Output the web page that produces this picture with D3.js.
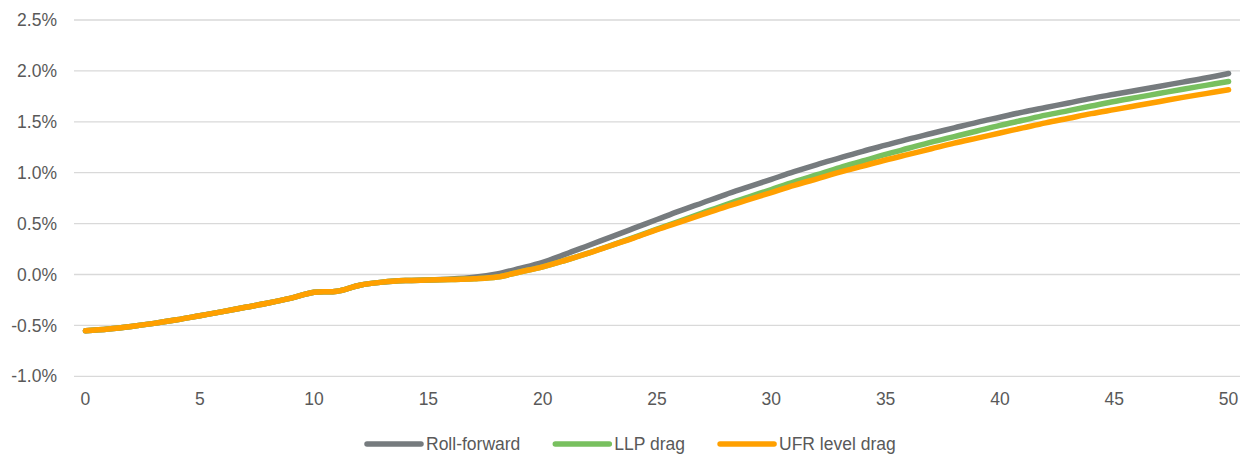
<!DOCTYPE html>
<html lang="en">
<head>
    <meta charset="utf-8">
    <title>Roll-forward vs LLP drag vs UFR level drag</title>
    <script src="https://d3js.org/d3.v7.min.js"></script>
    <style>
        body { margin: 0; background: #fff; }
        svg text { font-family: Arial, "Liberation Sans", sans-serif; fill: #595959; font-size: 17.5px; }
    </style>
</head>
<body>
    <script type="text/javascript">

        //Data (values in %)
        const years = d3.range(0, 51);
        const rollForward = [-0.553, -0.535, -0.51, -0.48, -0.445, -0.405, -0.365, -0.322, -0.28, -0.232,
            -0.175, -0.165, -0.105, -0.075, -0.06, -0.053, -0.045, -0.028, 0.005, 0.06,
            0.12, 0.2, 0.285, 0.37, 0.455, 0.54, 0.625, 0.705, 0.785, 0.86,
            0.935, 1.01, 1.08, 1.145, 1.21, 1.27, 1.33, 1.385, 1.44, 1.495,
            1.545, 1.595, 1.64, 1.685, 1.73, 1.77, 1.81, 1.85, 1.89, 1.93, 1.975];
        const llpDrag = [-0.553, -0.535, -0.51, -0.48, -0.445, -0.405, -0.365, -0.322, -0.28, -0.232,
            -0.175, -0.165, -0.105, -0.075, -0.06, -0.055, -0.05, -0.042, -0.025, 0.025,
            0.075, 0.14, 0.21, 0.287, 0.365, 0.445, 0.525, 0.605, 0.685, 0.76,
            0.835, 0.91, 0.98, 1.05, 1.115, 1.18, 1.24, 1.3, 1.355, 1.41,
            1.465, 1.515, 1.565, 1.61, 1.655, 1.7, 1.74, 1.78, 1.82, 1.858, 1.896];
        const ufrDrag = [-0.553, -0.535, -0.51, -0.48, -0.445, -0.405, -0.365, -0.322, -0.28, -0.232,
            -0.175, -0.165, -0.105, -0.075, -0.06, -0.055, -0.05, -0.042, -0.025, 0.025,
            0.075, 0.14, 0.21, 0.285, 0.36, 0.44, 0.515, 0.59, 0.665, 0.735,
            0.805, 0.875, 0.94, 1.005, 1.065, 1.125, 1.18, 1.235, 1.29, 1.34,
            1.39, 1.44, 1.49, 1.535, 1.58, 1.62, 1.66, 1.7, 1.74, 1.777, 1.814];
        const yTicks = [-1.0, -0.5, 0.0, 0.5, 1.0, 1.5, 2.0, 2.5];
        const xTicks = [0, 5, 10, 15, 20, 25, 30, 35, 40, 45, 50];

        const series = [
            { name: "Roll-forward", values: rollForward, color: "#767b7e" },
            { name: "LLP drag", values: llpDrag, color: "#78c05f" },
            { name: "UFR level drag", values: ufrDrag, color: "#ffa000" }
        ];

        //declare consts
        const w = 1240;
        const h = 454;
        const plotLeft = 74, plotRight = 1240, plotTop = 20, plotBottom = 376.3;

        const x = d3.scalePoint().domain(years).range([plotLeft, plotRight]).padding(0.5);
        const y = d3.scaleLinear().domain([-1, 2.5]).range([plotBottom, plotTop]);

        const svg = d3.select("body")
            .append("svg")
            .attr("width", w)
            .attr("height", h);

        //gridlines
        svg.append("g")
            .selectAll("line")
            .data(yTicks)
            .enter()
            .append("line")
            .attr("x1", plotLeft)
            .attr("x2", plotRight)
            .attr("y1", d => y(d))
            .attr("y2", d => y(d))
            .attr("stroke", "#d9d9d9")
            .attr("stroke-width", 1.3);

        //y labels
        svg.append("g")
            .selectAll("text")
            .data(yTicks)
            .enter()
            .append("text")
            .attr("x", 57)
            .attr("y", d => y(d))
            .attr("dy", "0.35em")
            .attr("text-anchor", "end")
            .text(d => d.toFixed(1) + "%");

        //x labels
        svg.append("g")
            .selectAll("text")
            .data(xTicks)
            .enter()
            .append("text")
            .attr("x", d => x(d))
            .attr("y", 405)
            .attr("text-anchor", "middle")
            .text(d => d);

        //lines
        const line = d3.line()
            .x((d, i) => x(years[i]))
            .y(d => y(d))
            .curve(d3.curveCatmullRom);

        svg.append("g")
            .selectAll("path")
            .data(series)
            .enter()
            .append("path")
            .attr("d", d => line(d.values))
            .attr("fill", "none")
            .attr("stroke", d => d.color)
            .attr("stroke-width", 5.5)
            .attr("stroke-linecap", "round")
            .attr("stroke-linejoin", "round");

        //legend
        const legend = svg.append("g").attr("transform", "translate(367,0)");
        const items = legend.selectAll("g")
            .data(series)
            .enter()
            .append("g");

        items.append("line")
            .attr("x1", 0).attr("x2", 54)
            .attr("y1", 444).attr("y2", 444)
            .attr("stroke", d => d.color)
            .attr("stroke-width", 5.5)
            .attr("stroke-linecap", "round");

        items.append("text")
            .attr("x", 59)
            .attr("y", 450)
            .text(d => d.name);

        let pos = 0;
        items.each(function () {
            d3.select(this).attr("transform", "translate(" + pos + ",0)");
            pos += 59 + d3.select(this).select("text").node().getComputedTextLength() + 35;
        });

    </script>
</body>
</html>
